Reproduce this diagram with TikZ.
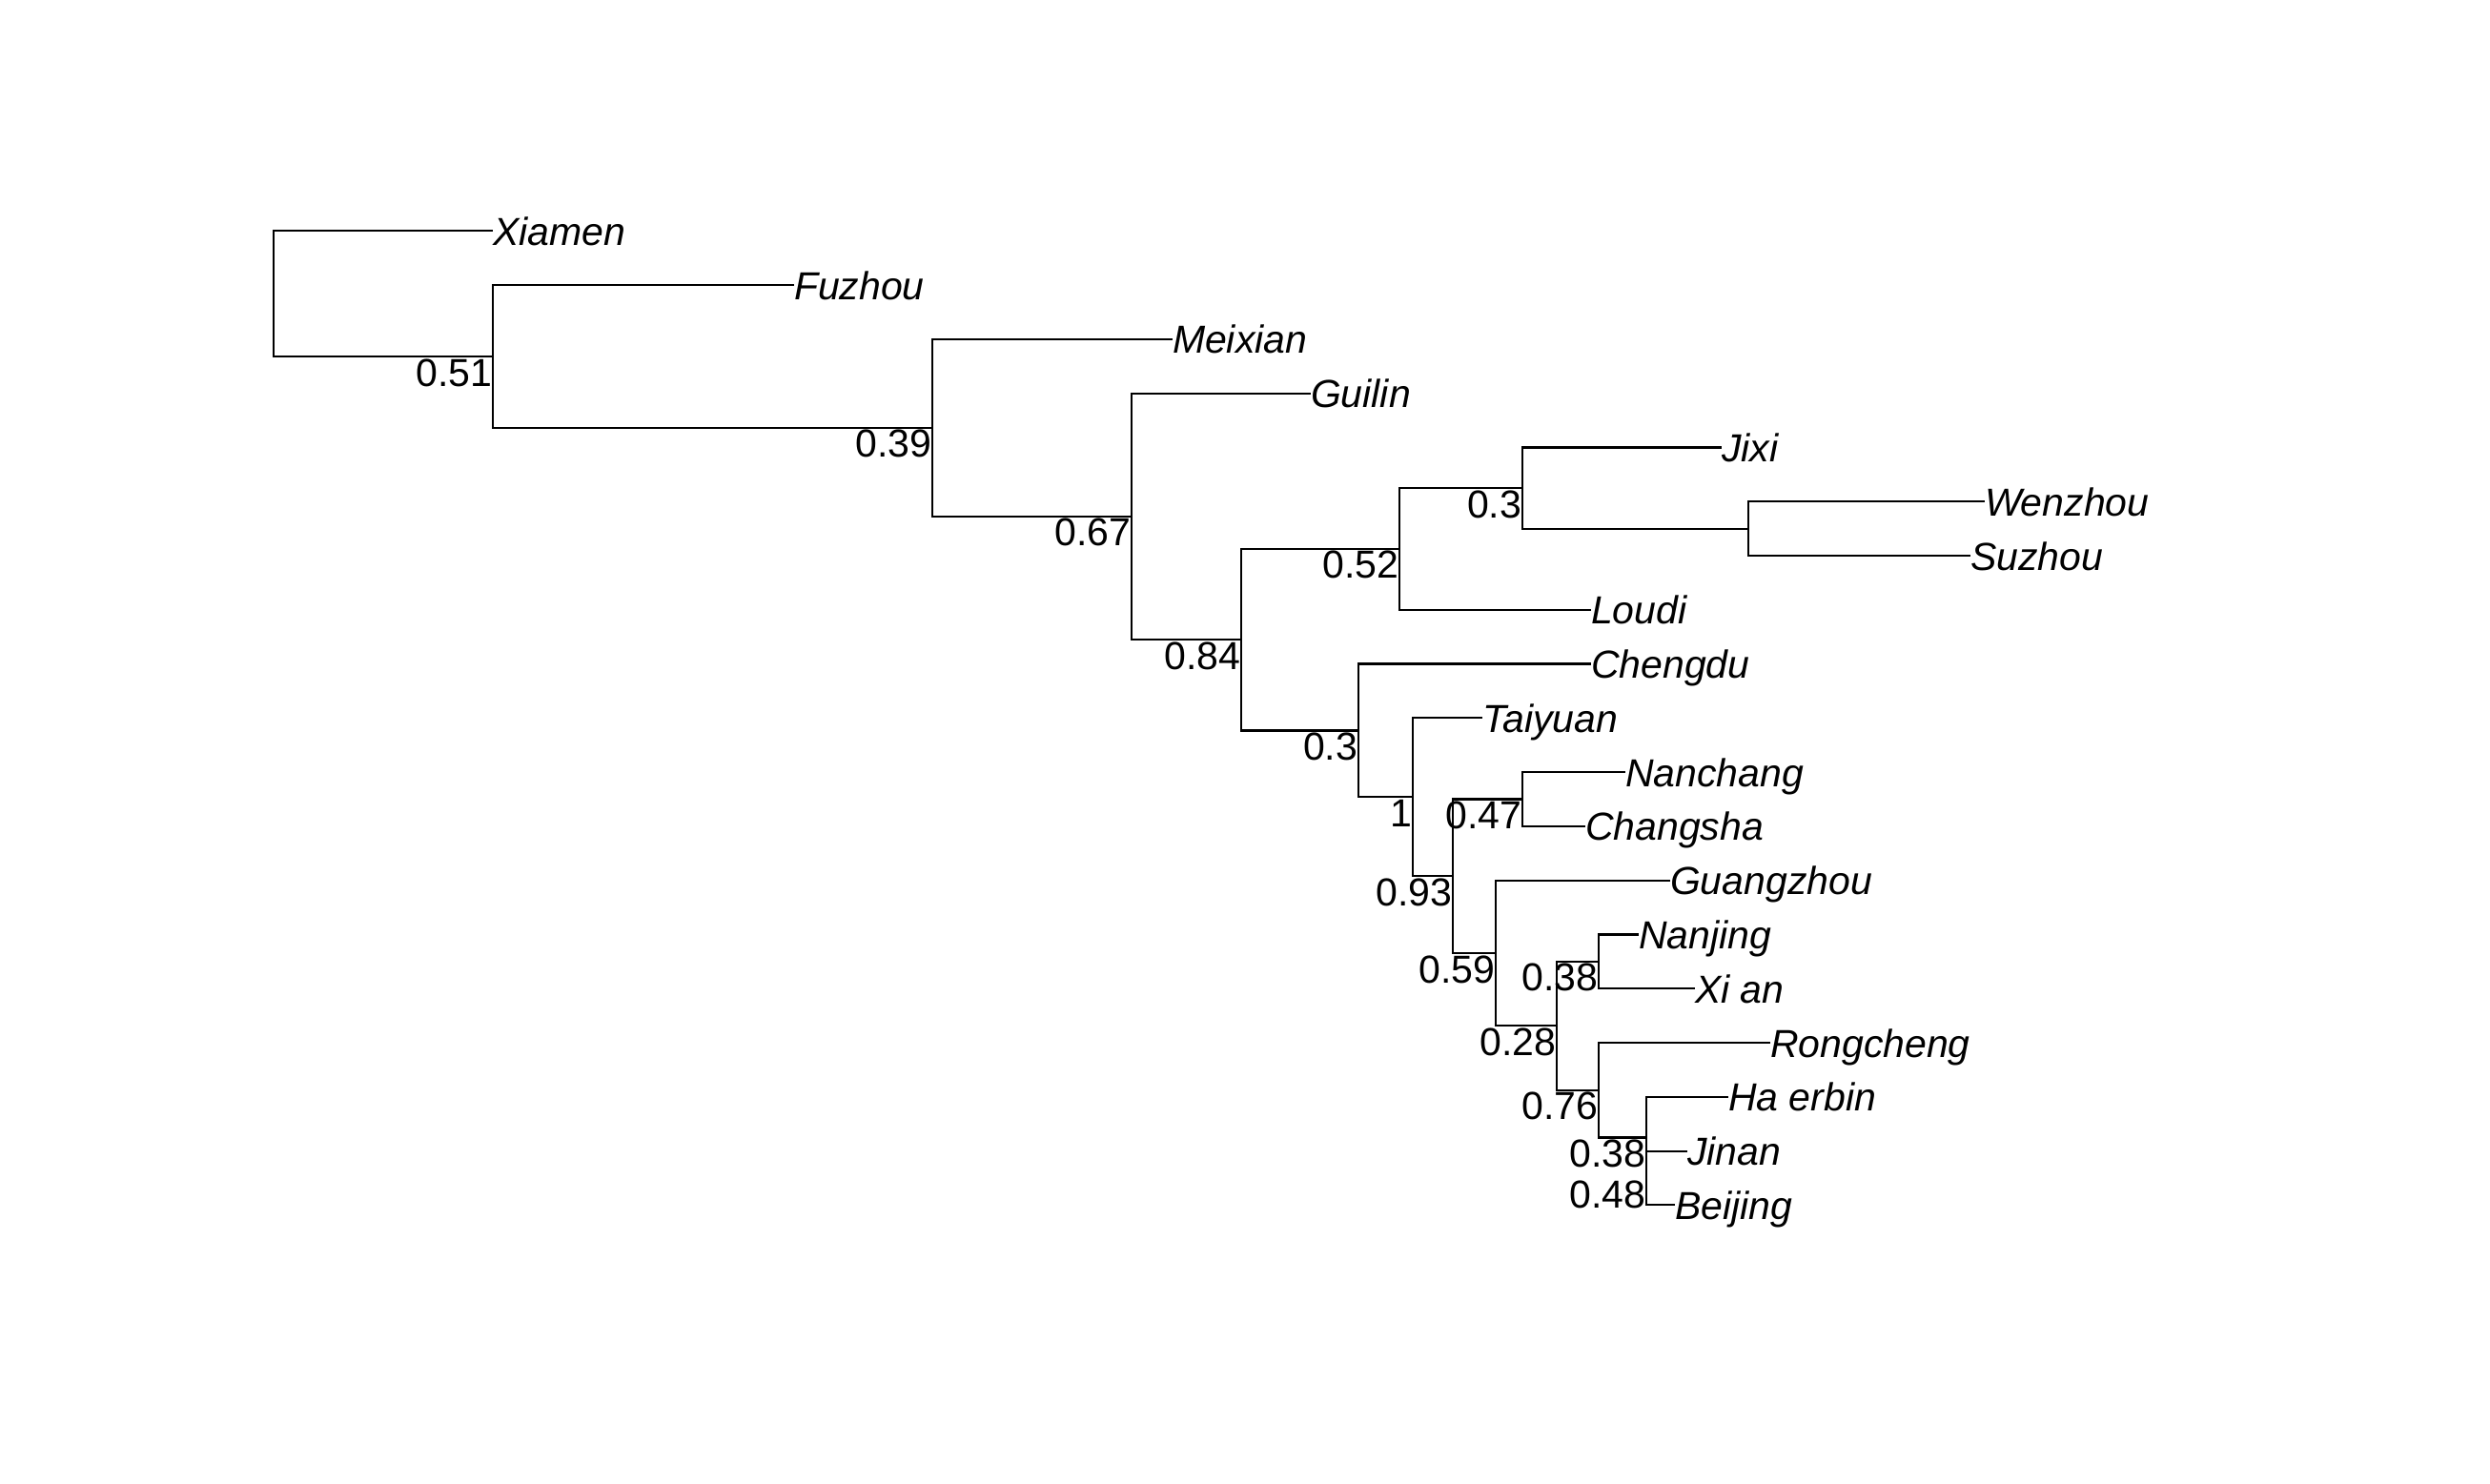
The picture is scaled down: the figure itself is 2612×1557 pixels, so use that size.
\documentclass[tikz,border=0pt]{standalone}
\usepackage{fontspec}
\setmainfont{Liberation Sans}
\begin{document}
\begin{tikzpicture}[x=0.5pt,y=-0.5pt,
  tip/.style={font=\fontsize{20.5}{24}\selectfont\itshape, inner sep=0pt, outer sep=0pt, anchor=west, text height=15pt, text depth=0pt},
  nlab/.style={font=\fontsize{20.5}{24}\selectfont, inner sep=0pt, outer sep=0pt, anchor=base east, xshift=-0.5pt, yshift=-15.5pt},
  edge/.style={draw=black, line width=1.1pt}]
\useasboundingbox (0,0) rectangle (2612,1557);
\fill[white] (0,0) rectangle (2612,1557);
% tips
\node[tip] (Xiamen) at (517,242.3) {Xiamen};
\node[tip] (Fuzhou) at (833,299.1) {Fuzhou};
\node[tip] (Meixian) at (1230,355.9) {Meixian};
\node[tip] (Guilin) at (1375,412.6) {Guilin};
\node[tip] (Jixi) at (1806,469.4) {Jixi};
\node[tip] (Wenzhou) at (2082,526.2) {Wenzhou};
\node[tip] (Suzhou) at (2067,583.0) {Suzhou};
\node[tip] (Loudi) at (1669,639.8) {Loudi};
\node[tip] (Chengdu) at (1669,696.5) {Chengdu};
\node[tip] (Taiyuan) at (1555,753.3) {Taiyuan};
\node[tip] (Nanchang) at (1705,810.1) {Nanchang};
\node[tip] (Changsha) at (1663,866.9) {Changsha};
\node[tip] (Guangzhou) at (1752,923.7) {Guangzhou};
\node[tip] (Nanjing) at (1719,980.4) {Nanjing};
\node[tip] (Xian) at (1778,1037.2) {Xi an};
\node[tip] (Rongcheng) at (1857,1094.0) {Rongcheng};
\node[tip] (Haerbin) at (1813,1150.8) {Ha erbin};
\node[tip] (Jinan) at (1770,1207.6) {Jinan};
\node[tip] (Beijing) at (1757,1264.3) {Beijing};
% internal nodes
\coordinate (root) at (287,308.2);
\coordinate (n051) at (517,374.0);
\coordinate (n039) at (978,448.9);
\coordinate (n067) at (1187,541.9);
\coordinate (n084) at (1302,671.2);
\coordinate (n052) at (1468,575.9);
\coordinate (n03a) at (1597,512.0);
\coordinate (nws) at (1834,554.6);
\coordinate (n03b) at (1425,766.4);
\coordinate (n1) at (1482,836.3);
\coordinate (n093) at (1524,919.3);
\coordinate (n047) at (1597,838.5);
\coordinate (n059) at (1569,1000.0);
\coordinate (n028) at (1633,1076.3);
\coordinate (n038a) at (1677,1008.8);
\coordinate (n076) at (1677,1143.7);
\coordinate (n038b) at (1727,1193.4);
\coordinate (n048) at (1727,1236.0);
% edges
\draw[edge] (root) |- (Xiamen.west);
\draw[edge] (root) |- (n051);
\draw[edge] (n051) |- (Fuzhou.west);
\draw[edge] (n051) |- (n039);
\draw[edge] (n039) |- (Meixian.west);
\draw[edge] (n039) |- (n067);
\draw[edge] (n067) |- (Guilin.west);
\draw[edge] (n067) |- (n084);
\draw[edge] (n084) |- (n052);
\draw[edge] (n084) |- (n03b);
\draw[edge] (n052) |- (n03a);
\draw[edge] (n052) |- (Loudi.west);
\draw[edge] (n03a) |- (Jixi.west);
\draw[edge] (n03a) |- (nws);
\draw[edge] (nws) |- (Wenzhou.west);
\draw[edge] (nws) |- (Suzhou.west);
\draw[edge] (n03b) |- (Chengdu.west);
\draw[edge] (n03b) |- (n1);
\draw[edge] (n1) |- (Taiyuan.west);
\draw[edge] (n1) |- (n093);
\draw[edge] (n093) |- (n047);
\draw[edge] (n093) |- (n059);
\draw[edge] (n047) |- (Nanchang.west);
\draw[edge] (n047) |- (Changsha.west);
\draw[edge] (n059) |- (Guangzhou.west);
\draw[edge] (n059) |- (n028);
\draw[edge] (n028) |- (n038a);
\draw[edge] (n028) |- (n076);
\draw[edge] (n038a) |- (Nanjing.west);
\draw[edge] (n038a) |- (Xian.west);
\draw[edge] (n076) |- (Rongcheng.west);
\draw[edge] (n076) |- (n038b);
\draw[edge] (n038b) |- (Haerbin.west);
\draw[edge] (n038b) |- (n048);
\draw[edge] (n048) |- (Jinan.west);
\draw[edge] (n048) |- (Beijing.west);
% node labels
\node[nlab] (l051) at (n051) {0.51};
\node[nlab] (l039) at (n039) {0.39};
\node[nlab] (l067) at (n067) {0.67};
\node[nlab] (l084) at (n084) {0.84};
\node[nlab] (l052) at (n052) {0.52};
\node[nlab] (l03a) at (n03a) {0.3};
\node[nlab] (l03b) at (n03b) {0.3};
\node[nlab] (l1) at (n1) {1};
\node[nlab] (l093) at (n093) {0.93};
\node[nlab] (l047) at (n047) {0.47};
\node[nlab] (l059) at (n059) {0.59};
\node[nlab] (l028) at (n028) {0.28};
\node[nlab] (l038a) at (n038a) {0.38};
\node[nlab] (l076) at (n076) {0.76};
\node[nlab] (l038b) at (n038b) {0.38};
\node[nlab] (l048) at (n048) {0.48};
\end{tikzpicture}
\end{document}
